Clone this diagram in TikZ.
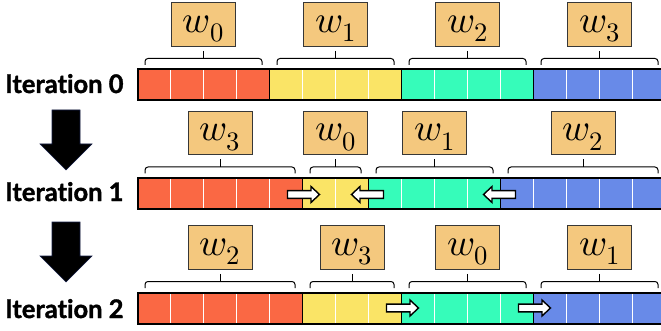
\documentclass[tikz,border=0pt]{standalone}
\usepackage{fontspec}
\usepackage{unicode-math}
\setmathfont{Latin Modern Math}
\newfontfamily\labelfont{Lato}[BoldFeatures={FakeBold=1.5}, Ligatures=NoCommon]
\usetikzlibrary{calc}

\definecolor{segred}{RGB}{250,104,68}
\definecolor{segyellow}{RGB}{250,228,102}
\definecolor{seggreen}{RGB}{54,252,186}
\definecolor{segblue}{RGB}{104,138,232}
\definecolor{wfill}{RGB}{244,200,126}
\definecolor{wline}{RGB}{55,55,55}
\definecolor{bigarrowline}{RGB}{20,30,70}

\tikzset{
  wbox/.style={draw=wline, line width=0.8pt, fill=wfill, minimum width=64pt,
    minimum height=43.5pt, inner sep=0pt, text height=20pt, text depth=3.5pt,
    font=\fontsize{38}{38}\selectfont},
  itlabel/.style={anchor=base west, inner sep=0pt,
    font=\labelfont\bfseries\fontsize{25.5}{25.5}\selectfont},
  cellfill/.style={inner sep=0pt, outer sep=0pt},
  cellline/.style={white, line width=0.9pt},
  segline/.style={black, line width=1.5pt},
  barline/.style={black, line width=2pt},
  braceline/.style={black, line width=1pt, rounded corners=3pt},
  flowarrow/.style={draw=black, line width=1.4pt, fill=white, line join=miter},
  bigarrow/.style={fill=black, draw=bigarrowline, line width=0.6pt},
}

% cell width 33, bar starts at x = 137.5, bar height 31
% #1 bar top y, #2 first cell, #3 number of cells, #4 colour, #5 name, #6 weight index
\newcommand\drawsegment[6]{%
  \pgfmathsetmacro\sxa{137.5+33*#2}%
  \pgfmathsetmacro\sxb{137.5+33*(#2+#3)}%
  \pgfmathsetmacro\sxm{(\sxa+\sxb)/2}%
  \pgfmathsetmacro\sym{#1+15.5}%
  \pgfmathsetmacro\swid{33*#3}%
  \pgfmathtruncatemacro\snm{#3-1}%
  \node[cellfill, fill=#4, minimum width=\swid pt, minimum height=31pt] (seg-#5) at (\sxm,\sym) {};
  \foreach \k in {1,...,\snm} {
    \draw[cellline] ($(seg-#5.north west)+(33*\k,0)$) -- ($(seg-#5.south west)+(33*\k,0)$);
  }
  \draw[segline] (seg-#5.north west) rectangle (seg-#5.south east);
  % weight box above the segment
  \pgfmathsetmacro\wy{#1-23.5-21.75}%
  \node[wbox] (w-#5) at (\sxm,\wy) {$w_{#6}$};
  % bracket joining the box to its segment
  \pgfmathsetmacro\bl{\sxa+7.5}%
  \pgfmathsetmacro\br{\sxb-7.5}%
  \pgfmathsetmacro\bend{#1-4.5}%
  \pgfmathsetmacro\bmid{#1-11}%
  \draw[braceline] (\bl,\bend) -- (\bl,\bmid) -- (\br,\bmid) -- (\br,\bend);
  \draw[black, line width=1pt] ($(w-#5.south)+(0,4.5)$) -- (\sxm,\bmid);
}

% white block arrow centred on a segment boundary; #3 = 1 right, -1 left
\newcommand\flowmark[3]{%
  \begin{scope}[shift={(#1,#2)}, xscale=#3]
    \draw[flowarrow] (-15,-3.9) -- (8.5,-3.9) -- (8.5,-8) -- (17,0)
      -- (8.5,8) -- (8.5,3.9) -- (-15,3.9) -- cycle;
  \end{scope}
}

% heavy downward arrow between iterations, top edge at #1
\newcommand\stepdown[1]{%
  \begin{scope}[shift={(0,#1)}]
    \draw[bigarrow] (52,0) -- (80,0) -- (80,34) -- (92,34) -- (66,60)
      -- (40,34) -- (52,34) -- cycle;
  \end{scope}
}

\begin{document}
\begin{tikzpicture}[x=1pt, y=-1pt]
  \useasboundingbox (0,0) rectangle (661,331);

  % iteration 0
  \drawsegment{69.5}{0}{4}{segred}{a0}{0}
  \drawsegment{69.5}{4}{4}{segyellow}{a1}{1}
  \drawsegment{69.5}{8}{4}{seggreen}{a2}{2}
  \drawsegment{69.5}{12}{4}{segblue}{a3}{3}
  \draw[barline] (137.5,69.5) rectangle (665.5,100.5);
  \node[itlabel] (it0) at (5,93) {Iteration 0};

  % iteration 1
  \drawsegment{178}{0}{5}{segred}{b0}{3}
  \drawsegment{178}{5}{2}{segyellow}{b1}{0}
  \drawsegment{178}{7}{4}{seggreen}{b2}{1}
  \drawsegment{178}{11}{5}{segblue}{b3}{2}
  \draw[barline] (137.5,178) rectangle (665.5,209);
  \node[itlabel] (it1) at (5,201) {Iteration 1};
  \flowmark{302.5}{194.5}{1}
  \flowmark{368.5}{194.5}{-1}
  \flowmark{500.5}{194.5}{-1}

  % iteration 2
  \drawsegment{292.5}{0}{5}{segred}{c0}{2}
  \drawsegment{292.5}{5}{3}{segyellow}{c1}{3}
  \drawsegment{292.5}{8}{4}{seggreen}{c2}{0}
  \drawsegment{292.5}{12}{4}{segblue}{c3}{1}
  \draw[barline] (137.5,292.5) rectangle (665.5,323.5);
  \node[itlabel] (it2) at (5,318) {Iteration 2};
  \flowmark{401.5}{308}{1}
  \flowmark{533.5}{308}{1}

  % arrows between iterations
  \stepdown{110}
  \stepdown{222}
\end{tikzpicture}
\end{document}
